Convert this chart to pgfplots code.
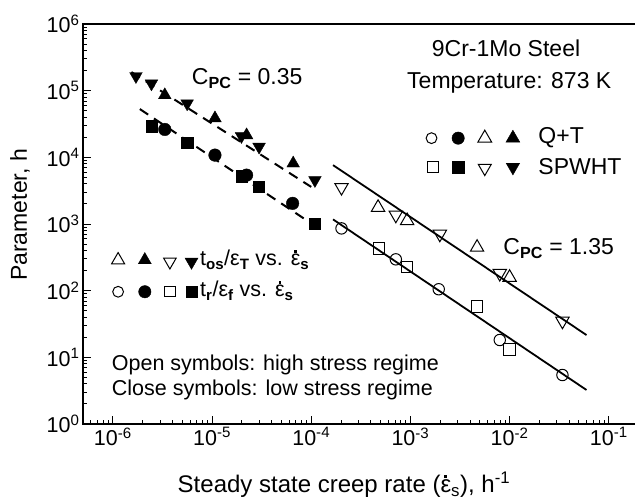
\documentclass[border=0pt]{standalone}
\usepackage{fontspec}
\setmainfont{Liberation Sans}
\usepackage{pgfplots}
\pgfplotsset{compat=1.18}
\usetikzlibrary{calc}
\newcommand\edot{\leavevmode\hbox{\ooalign{ε\cr\hidewidth\raise.62em\hbox{\rule{.12em}{.12em}}\hidewidth\cr}}}
\newcommand\sub[1]{\textsubscript{\textbf{#1}}}
\begin{document}
\begin{tikzpicture}
\begin{axis}[
  name=ax,
  scale only axis, width=600bp, height=400bp,
  xmode=log, ymode=log, log basis x=10, log basis y=10,
  xmin=5e-7, xmax=0.56, ymin=1, ymax=1e6,
  axis line style={line width=1.5bp},
  tick style={black, line width=0.9bp},
  major tick length=8bp, minor tick length=4.5bp,
  tick align=inside,
  xtick pos=left, ytick pos=left,
  tick label style={font=\fontsize{21.5bp}{25bp}\selectfont},
  xticklabel={10\textsuperscript{\pgfmathparse{int(round(\tick))}\pgfmathresult}},
  yticklabel={10\textsuperscript{\pgfmathparse{int(round(\tick))}\pgfmathresult}},
  xlabel={Steady state creep rate (\edot\textsubscript{s}), h\textsuperscript{-1}},
  ylabel={Parameter, h},
  xlabel style={font=\fontsize{24bp}{28bp}\selectfont, at={(axis description cs:0.435,-0.152)}, anchor=center},
  ylabel style={font=\fontsize{23bp}{27bp}\selectfont, at={(axis description cs:-0.105,0.5225)}, anchor=center},
  clip=false,
]
% fitted lines
\addplot[black, line width=2bp, dash pattern=on 10bp off 7bp] coordinates {(1.54e-6,1.9e5) (1.0e-4,3600)};
\addplot[black, line width=2bp, dash pattern=on 10bp off 7bp] coordinates {(1.87e-6,5.3e4) (1.0e-4,1020)};
\addplot[black, line width=1.8bp] coordinates {(1.66e-4,7640) (5.96e-2,21.6)};
\addplot[black, line width=1.8bp] coordinates {(1.66e-4,1172) (5.96e-2,3.24)};
% low stress (filled)
\addplot[only marks, mark=*, mark size=6.3bp, black] coordinates {(3.34e-6,2.62e4)(1.07e-5,1.08e4)(2.23e-5,5.41e3)(6.49e-5,2.04e3)};
\addplot[only marks, mark=square*, mark size=5.6bp, black] coordinates {(2.45e-6,2.94e4)(5.61e-6,1.65e4)(1.98e-5,5.23e3)(2.98e-5,3.61e3)(1.09e-4,1.02e3)};
\addplot[only marks, mark=triangle*, mark size=7.3bp, black] coordinates {(3.34e-6,8.57e4)(1.07e-5,3.86e4)(2.23e-5,2.15e4)(6.58e-5,8.11e3)};
\addplot[only marks, mark=triangle*, mark size=7.3bp, black, mark options={rotate=180}] coordinates {(1.71e-6,1.65e5)(2.45e-6,1.28e5)(5.61e-6,6.43e4)(1.98e-5,2.08e4)(2.98e-5,1.44e4)(1.09e-4,4.55e3)};
% high stress (open)
\addplot[only marks, mark=triangle, mark size=7.7bp, black, mark options={rotate=180, line width=1bp}] coordinates {(2.02e-4,3.54e3)(7.13e-4,1.36e3)(1.98e-3,706)(7.96e-3,182)(3.41e-2,35)};
\addplot[only marks, mark=triangle, mark size=7.7bp, black, mark options={line width=1bp}] coordinates {(4.72e-4,1.77e3)(9.27e-4,1.12e3)(4.70e-3,446)(1.00e-2,158)};
\addplot[only marks, mark=o, mark size=5.7bp, black, mark options={line width=1bp}] coordinates {(2.02e-4,859)(7.13e-4,295)(1.93e-3,105)(7.96e-3,18.2)(3.41e-2,5.43)};
\addplot[only marks, mark=square, mark size=5.8bp, black, mark options={line width=1bp}] coordinates {(4.83e-4,431)(9.27e-4,228)(4.70e-3,57.4)(1.0e-2,13.2)};
% key symbols (top right)
\addplot[forget plot, only marks, mark=o, mark size=5.4bp, black, mark options={line width=1bp}] coordinates {(1.633e-3,1.94e4)};
\addplot[forget plot, only marks, mark=*, mark size=6.2bp, black] coordinates {(3.03e-3,1.94e4)};
\addplot[forget plot, only marks, mark=triangle, mark size=8bp, black, mark options={line width=1bp}] coordinates {(5.62e-3,1.94e4)};
\addplot[forget plot, only marks, mark=triangle*, mark size=8bp, black] coordinates {(1.08e-2,1.94e4)};
\addplot[forget plot, only marks, mark=square, mark size=5.4bp, black, mark options={line width=1bp}] coordinates {(1.69e-3,7.13e3)};
\addplot[forget plot, only marks, mark=square*, mark size=5.6bp, black] coordinates {(3.03e-3,7.13e3)};
\addplot[forget plot, only marks, mark=triangle, mark size=7.5bp, black, mark options={rotate=180, line width=1bp}] coordinates {(5.62e-3,6.9e3)};
\addplot[forget plot, only marks, mark=triangle*, mark size=7.8bp, black, mark options={rotate=180}] coordinates {(1.08e-2,7.13e3)};
% key symbols (left)
\addplot[forget plot, only marks, mark=triangle, mark size=7.5bp, black, mark options={line width=1bp}] coordinates {(1.13e-6,288)};
\addplot[forget plot, only marks, mark=triangle*, mark size=7.5bp, black] coordinates {(2.10e-6,288)};
\addplot[forget plot, only marks, mark=triangle, mark size=7.2bp, black, mark options={rotate=180, line width=1bp}] coordinates {(3.76e-6,271)};
\addplot[forget plot, only marks, mark=triangle*, mark size=7.5bp, black, mark options={rotate=180}] coordinates {(6.21e-6,271)};
\addplot[forget plot, only marks, mark=o, mark size=5.4bp, black, mark options={line width=1bp}] coordinates {(1.13e-6,96.3)};
\addplot[forget plot, only marks, mark=*, mark size=6.2bp, black] coordinates {(2.10e-6,96.3)};
\addplot[forget plot, only marks, mark=square, mark size=5.2bp, black, mark options={line width=1bp}] coordinates {(3.76e-6,96.3)};
\addplot[forget plot, only marks, mark=square*, mark size=5.5bp, black] coordinates {(6.21e-6,96.3)};
% texts
\begin{scope}[every node/.style={inner sep=0pt, font=\fontsize{23bp}{27bp}\selectfont}]
\node[anchor=west] at (rel axis cs:0.5812,0.94) {9Cr-1Mo Steel};
\node[anchor=west] at (rel axis cs:0.54,0.8525) {Temperature: 873 K};
\node[anchor=west] at (rel axis cs:0.7588,0.715) {Q+T};
\node[anchor=west] at (rel axis cs:0.7588,0.643) {SPWHT};
\node[anchor=base west] at (rel axis cs:0.1812,0.8475) {C\sub{PC} = 0.35};
\node[anchor=base west] at (rel axis cs:0.7005,0.4225) {C\sub{PC} = 1.35};
\end{scope}
\begin{scope}[every node/.style={inner sep=0pt, font=\fontsize{21.5bp}{26bp}\selectfont}]
\node[anchor=base west] at (rel axis cs:0.195,0.395) {t\sub{os}/ε\sub{T} vs. \edot\sub{s}};
\node[anchor=base west] at (rel axis cs:0.195,0.3175) {t\sub{r}/ε\sub{f} vs. \edot\sub{s}};
\node[anchor=west] at (rel axis cs:0.0478,0.1475) {Open symbols: high stress regime};
\node[anchor=west] at (rel axis cs:0.0478,0.085) {Close symbols: low stress regime};
\end{scope}
\end{axis}
\pgfresetboundingbox
\useasboundingbox ($(ax.south west)+(-83bp,-76bp)$) rectangle ($(ax.south west)+(552bp,424bp)$);
\end{tikzpicture}
\end{document}
